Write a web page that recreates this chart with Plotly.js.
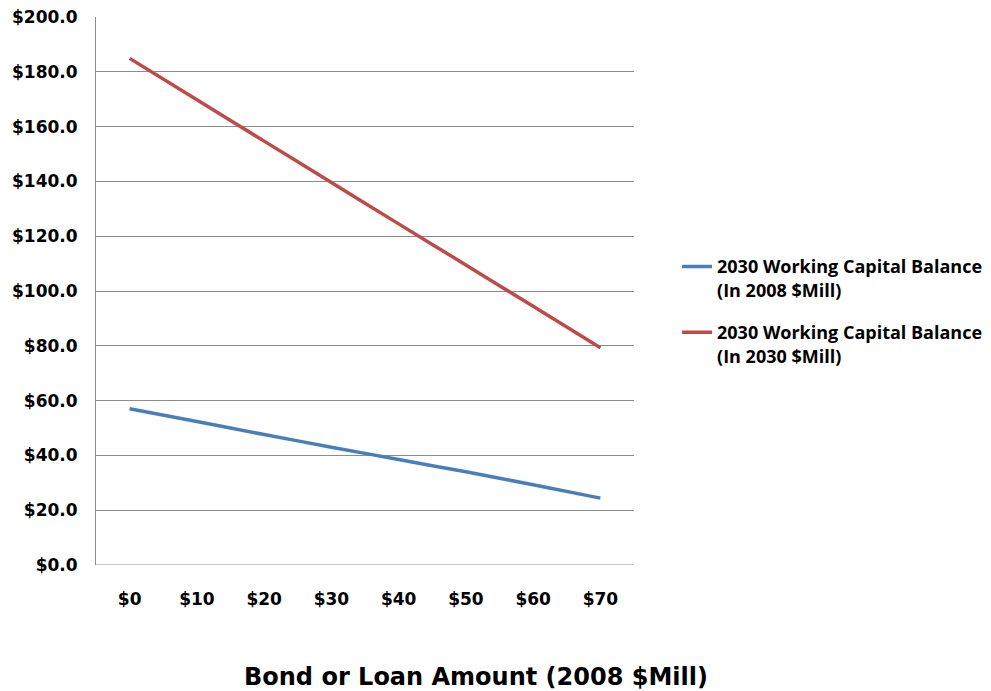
<!DOCTYPE html>
<html>
<head>
<meta charset="utf-8">
<script src="https://cdn.plot.ly/plotly-3.0.1.min.js"></script>
<style>html,body{margin:0;padding:0;background:#fff;}#chart{width:991px;height:691px;}</style>
</head>
<body>
<div id="chart"></div>
<script>
const categories = ["$0", "$10", "$20", "$30", "$40", "$50", "$60", "$70"];
const balance2008 = [57.0, 52.4, 47.6, 43.0, 38.5, 34.0, 29.3, 24.4];
const balance2030 = [184.9, 169.8, 154.7, 139.6, 124.5, 109.5, 94.4, 79.3];
const seriesNames = [
  "2030 Working Capital Balance<br>(In 2008 $Mill)",
  "2030 Working Capital Balance<br>(In 2030 $Mill)"
];
const yTickVals = [0, 20, 40, 60, 80, 100, 120, 140, 160, 180, 200];
const yTickText = yTickVals.map(v => "$" + v.toFixed(1));
const xTitle = "Bond or Loan Amount (2008 $Mill)";

const traces = [
  {x: categories, y: balance2008, type: "scatter", mode: "lines", name: seriesNames[0],
   legendgroup: "g1",
   line: {color: "#4A7EBB", width: 3.5, shape: "spline", smoothing: 0.4}},
  {x: categories, y: balance2030, type: "scatter", mode: "lines", name: seriesNames[1],
   legendgroup: "g2",
   line: {color: "#BE4B48", width: 3.5, shape: "spline", smoothing: 0.4}}
];

const layout = {
  width: 991, height: 691,
  margin: {l: 96, r: 357, t: 17, b: 126, autoexpand: false},
  paper_bgcolor: "#ffffff", plot_bgcolor: "#ffffff",
  showlegend: true,
  legend: {x: 1.08, xanchor: "left", y: 0.578, yanchor: "top", valign: "top",
           tracegroupgap: 16,
           font: {family: "Open Sans", size: 18, color: "#000", weight: "bold"},
           bgcolor: "rgba(0,0,0,0)"},
  xaxis: {type: "category", showgrid: false, zeroline: false, showline: false,
          ticks: "", ticklabelstandoff: 22,
          tickfont: {family: "DejaVu Sans", size: 17, color: "#000", weight: "bold"},
          range: [-0.5, 7.5], fixedrange: true},
  yaxis: {range: [0, 200], tickvals: yTickVals, ticktext: yTickText,
          showgrid: true, gridcolor: "#8c8c8c", gridwidth: 1,
          zeroline: false, showline: true, linecolor: "#8c8c8c", linewidth: 1,
          ticks: "", ticklabelstandoff: 14,
          tickfont: {family: "DejaVu Sans", size: 17, color: "#000", weight: "bold"},
          fixedrange: true},
  shapes: [
    {type: "line", xref: "paper", yref: "y", x0: 0, x1: 1, y0: 0, y1: 0,
     line: {color: "#8c8c8c", width: 1}}
  ],
  annotations: [
    {text: xTitle, xref: "paper", yref: "paper", x: 0.7065, y: -0.205,
     xanchor: "center", yanchor: "middle", showarrow: false,
     font: {family: "DejaVu Sans", size: 24, color: "#000", weight: "bold"}}
  ]
};

Plotly.newPlot("chart", traces, layout, {displayModeBar: false, staticPlot: true});
</script>
</body>
</html>
